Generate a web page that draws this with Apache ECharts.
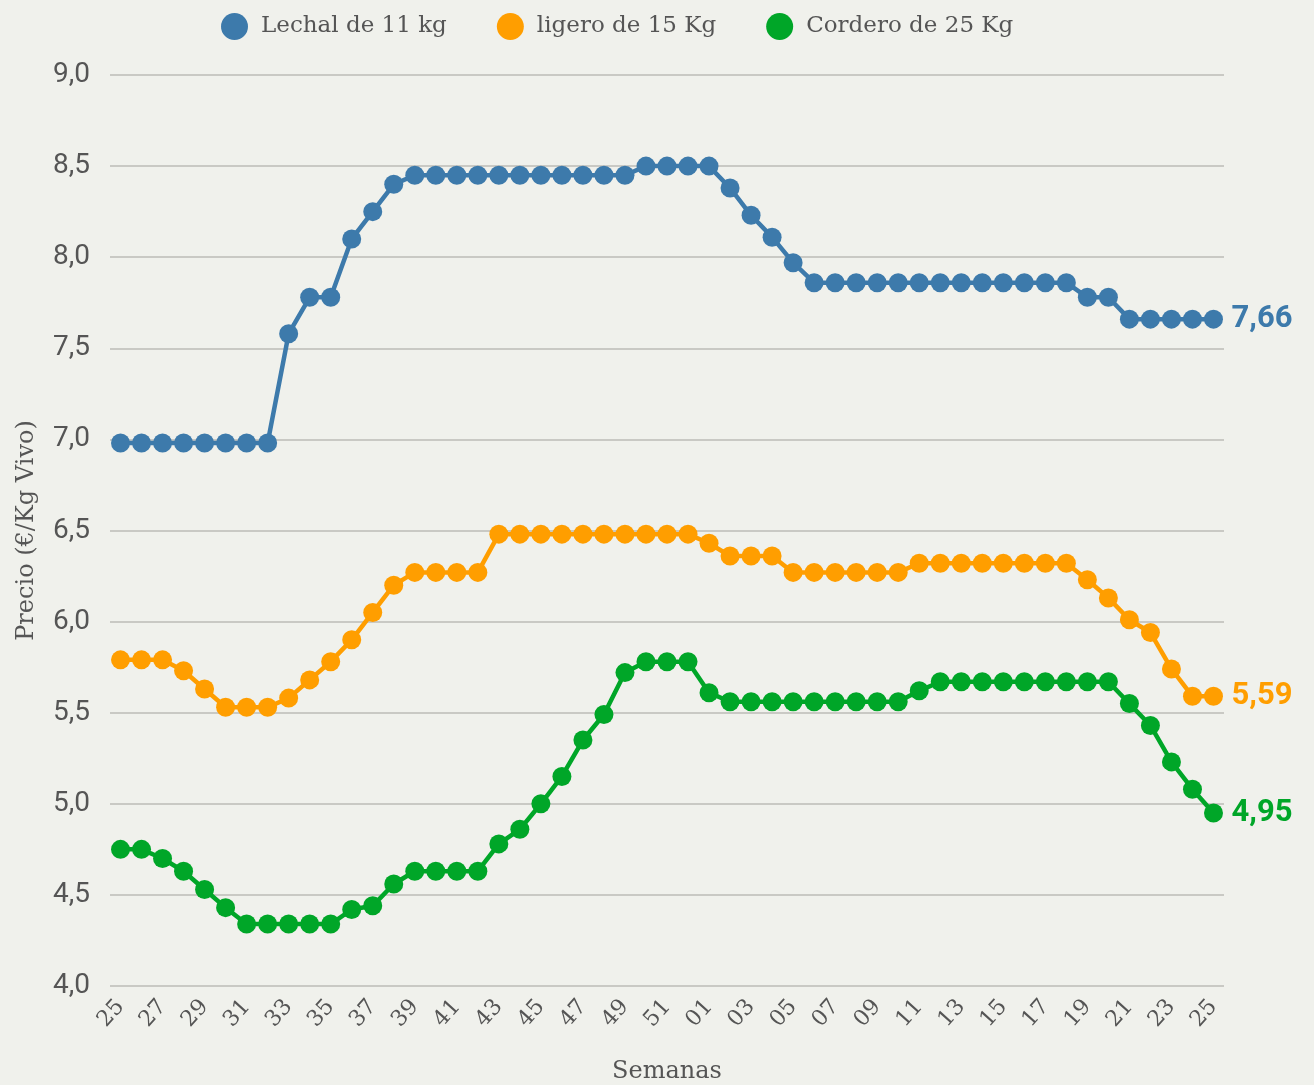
<!DOCTYPE html>
<html><head><meta charset="utf-8">
<script src="https://cdn.jsdelivr.net/npm/echarts@6/dist/echarts.min.js"></script>
<style>html,body{margin:0;padding:0;background:#f0f1ec;}#c{width:1314px;height:1085px;}</style>
</head><body><div id="c"></div>
<script>
const weeks = ["25","26","27","28","29","30","31","32","33","34","35","36","37","38","39","40","41","42","43","44","45","46","47","48","49","50","51","52","01","02","03","04","05","06","07","08","09","10","11","12","13","14","15","16","17","18","19","20","21","22","23","24","25"];
const lechal = [6.98,6.98,6.98,6.98,6.98,6.98,6.98,6.98,7.58,7.78,7.78,8.10,8.25,8.40,8.45,8.45,8.45,8.45,8.45,8.45,8.45,8.45,8.45,8.45,8.45,8.50,8.50,8.50,8.50,8.38,8.23,8.11,7.97,7.86,7.86,7.86,7.86,7.86,7.86,7.86,7.86,7.86,7.86,7.86,7.86,7.86,7.78,7.78,7.66,7.66,7.66,7.66,7.66];
const ligero = [5.79,5.79,5.79,5.73,5.63,5.53,5.53,5.53,5.58,5.68,5.78,5.90,6.05,6.20,6.27,6.27,6.27,6.27,6.48,6.48,6.48,6.48,6.48,6.48,6.48,6.48,6.48,6.48,6.43,6.36,6.36,6.36,6.27,6.27,6.27,6.27,6.27,6.27,6.32,6.32,6.32,6.32,6.32,6.32,6.32,6.32,6.23,6.13,6.01,5.94,5.74,5.59,5.59];
const cordero = [4.75,4.75,4.70,4.63,4.53,4.43,4.34,4.34,4.34,4.34,4.34,4.42,4.44,4.56,4.63,4.63,4.63,4.63,4.78,4.86,5.00,5.15,5.35,5.49,5.72,5.78,5.78,5.78,5.61,5.56,5.56,5.56,5.56,5.56,5.56,5.56,5.56,5.56,5.62,5.67,5.67,5.67,5.67,5.67,5.67,5.67,5.67,5.67,5.55,5.43,5.23,5.08,4.95];
const seriesNames = ["Lechal de 11 kg","ligero de 15 Kg","Cordero de 25 Kg"];
const colors = ["#3d7aab","#ff9e00","#00a628"];

const slab = "'DejaVu Serif', serif";
const chart = echarts.init(document.getElementById('c'));
function mk(name, data, color){
  return {
    name, type:'line', data, color,
    symbol:'circle', symbolSize:19, showAllSymbol:true,
    lineStyle:{width:4.5,color},
    itemStyle:{color},
    emphasis:{disabled:true},
    endLabel:{show:true, color, fontFamily:'Roboto', fontWeight:'bold', fontSize:31, distance:18,
      formatter:p=>p.value.toFixed(2).replace('.',',')}
  };
}
chart.setOption({
  backgroundColor:'#f0f1ec',
  animation:false,
  legend:{top:8, left:216, itemWidth:27, itemHeight:27, itemGap:50, icon:'circle',
    textStyle:{fontFamily:slab, fontSize:23, color:'#555', padding:[0,0,0,8]}, data:seriesNames},
  grid:{left:110, right:90, top:75, bottom:99, containLabel:false, outerBoundsMode:'none'},
  xAxis:{type:'category', data:weeks, boundaryGap:true,
    axisLine:{show:false}, axisTick:{show:false},
    axisLabel:{interval:1, rotate:48, color:'#555', margin:17, hideOverlap:false,
      fontFamily:slab, fontSize:22},
    name:'Semanas', nameLocation:'middle', nameGap:74,
    nameTextStyle:{fontFamily:slab, fontSize:24, color:'#555'}},
  yAxis:{type:'value', min:4, max:9, interval:0.5,
    axisLine:{show:false}, axisTick:{show:false},
    splitLine:{lineStyle:{color:'#c9c9c4', width:2}},
    axisLabel:{fontFamily:'Roboto', fontSize:28, color:'#555', margin:20,
      formatter:v=>v.toFixed(1).replace('.',',')},
    name:'Precio (€/Kg Vivo)', nameLocation:'middle', nameGap:71,
    nameTextStyle:{fontFamily:slab, fontSize:24, color:'#555'}},
  series:[mk(seriesNames[0],lechal,colors[0]),mk(seriesNames[1],ligero,colors[1]),mk(seriesNames[2],cordero,colors[2])]
});
</script></body></html>
